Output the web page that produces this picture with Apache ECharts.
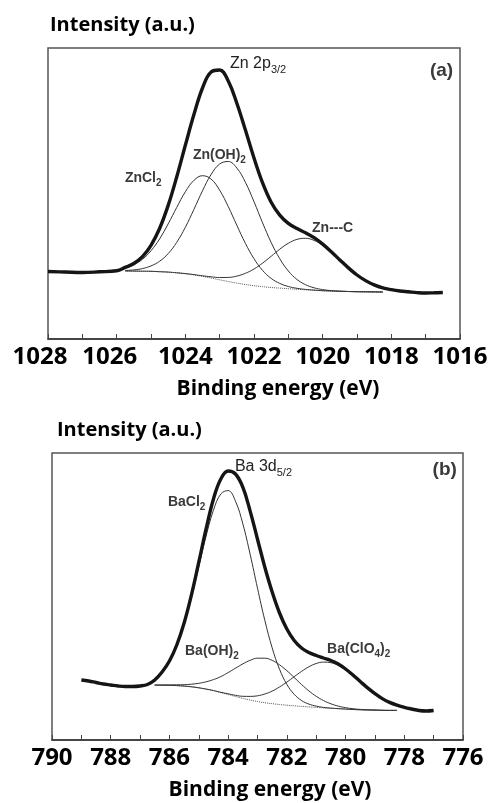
<!DOCTYPE html>
<html>
<head>
<meta charset="utf-8">
<script src="https://cdn.jsdelivr.net/npm/echarts@6/dist/echarts.min.js"></script>
<style>
  html, body { margin: 0; padding: 0; background: #fff; }
  #chart { width: 491px; height: 803px; }
</style>
</head>
<body>
<div id="chart"></div>
<script>
// ---- panel (a): Zn 2p3/2 ----
const ticksA = [1028, 1026, 1024, 1022, 1020, 1018, 1016];
const envEnergyA = [1028, 1027.5, 1027, 1026.5, 1026,
  1025.75, 1025.5, 1025.25, 1025, 1024.75, 1024.5, 1024.25, 1024, 1023.75, 1023.5, 1023.25, 1023,
  1022.75, 1022.5, 1022.25, 1022, 1021.75, 1021.5, 1021.25, 1021, 1020.75, 1020.5, 1020.25, 1020,
  1019.75, 1019.5, 1019.25, 1019, 1018.75, 1018.5, 1018.25,
  1018, 1017.75, 1017.5, 1017.25, 1017, 1016.75, 1016.5];
const envelopeA = [67.5, 67.0, 66.5, 67.2, 68.2,
  71.6, 75.5, 82.3, 93.7, 110.5, 133.6, 162.2, 193.7, 224.4, 251, 267, 269,
  258, 235.8, 209.0, 181.0, 156.1, 136.8, 123.9, 115.6, 110.5, 106.2, 101.3, 94.9,
  87.3, 79.1, 71.1, 64.0, 58.4, 54.1, 51.1,
  49.3, 48.0, 47.2, 46.4, 46.0, 46.2, 46.5];
const fitEnergyA = [1025.75, 1025.5, 1025.25, 1025, 1024.75, 1024.5, 1024.25, 1024, 1023.75, 1023.5,
  1023.25, 1023, 1022.75, 1022.5, 1022.25, 1022, 1021.75, 1021.5, 1021.25, 1021, 1020.75, 1020.5,
  1020.25, 1020, 1019.75, 1019.5, 1019.25, 1019, 1018.75, 1018.5, 1018.25];
const backgroundA = [68.0, 67.9, 67.8, 67.7, 67.3, 66.9, 66.2, 65.3, 64.1, 62.6,
  61.0, 59.2, 57.5, 55.9, 54.5, 53.3, 52.3, 51.5, 50.9, 50.3, 49.7, 49.2,
  48.7, 48.3, 48.0, 47.7, 47.5, 47.3, 47.2, 47.1, 47.0];
const zncl2A = [71.1, 74.3, 79.7, 88.3, 100.1, 115.1, 131.6, 147.2, 158.6, 163.3,
  159.9, 148.8, 132.4, 113.7, 95.6, 80.3, 68.6, 60.6, 55.6, 52.5, 50.7, 49.6,
  48.9, 48.3, 48.0, 47.7, 47.5, 47.3, 47.2, 47.1, 47.0];
const znoh2A = [68.5, 69.1, 70.4, 73.1, 77.7, 85.4, 96.7, 111.7, 129.6, 148.2,
  164.5, 175.0, 177.5, 171.0, 156.7, 137.3, 116.2, 96.5, 80.3, 68.0, 59.6, 54.3,
  51.2, 49.4, 48.4, 47.9, 47.5, 47.3, 47.2, 47.1, 47.0];
const zncA = [68.0, 67.9, 67.8, 67.7, 67.3, 66.9, 66.2, 65.4, 64.4, 63.2,
  62.2, 61.5, 61.6, 62.9, 65.7, 70.0, 75.9, 82.7, 89.8, 95.7, 99.6, 100.7,
  98.6, 93.7, 86.9, 78.9, 71.1, 64.0, 58.4, 54.1, 51.1];
const labelsA = [
  { text: 'Zn 2p{s|3/2}', at: [1022.7, 275], size: 16 },
  { text: '(a)', at: [1016.2, 268], size: 19, align: 'right', bold: true },
  { text: 'Zn(OH){s|2}', at: [1023.78, 184], bold: true },
  { text: 'ZnCl{s|2}', at: [1025.76, 161], bold: true },
  { text: 'Zn---C', at: [1020.31, 111], bold: true }
];

// ---- panel (b): Ba 3d5/2 ----
const ticksB = [790, 788, 786, 784, 782, 780, 778, 776];
const envEnergyB = [789, 788.75, 788.5, 788.25, 788, 787.75, 787.5, 787.25, 787, 786.75,
  786.5, 786.25, 786, 785.75, 785.5, 785.25, 785, 784.75, 784.5, 784.25, 784, 783.75, 783.5,
  783.25, 783, 782.75, 782.5, 782.25, 782, 781.75, 781.5, 781.25, 781, 780.75, 780.5, 780.25,
  780, 779.75, 779.5, 779.25, 779, 778.75, 778.5, 778.25,
  778, 777.75, 777.5, 777.25, 777];
const envelopeB = [60, 59, 57.5, 56, 55, 54, 53.5, 53.5, 54, 55.5,
  60, 68, 79, 95, 117, 145.2, 177.8, 211.3, 241.1, 261, 269, 266, 252.8,
  228.9, 200.8, 172.8, 148.0, 127, 111, 99.5, 92, 87.5, 84.5, 82, 79.5, 76,
  71, 65, 58.5, 52.1, 46.4, 41.4, 37.6, 34.8,
  32.7, 31.0, 29.5, 29.0, 29.5];
const fitEnergyB = [786.5, 786.25, 786, 785.75, 785.5, 785.25, 785, 784.75, 784.5, 784.25,
  784, 783.75, 783.5, 783.25, 783, 782.75, 782.5, 782.25, 782, 781.75,
  781.5, 781.25, 781, 780.75, 780.5, 780.25, 780, 779.75, 779.5, 779.25,
  779, 778.75, 778.5, 778.25];
const backgroundB = [54.9, 54.8, 54.7, 54.4, 53.9, 53.2, 52.2, 50.9, 49.3, 47.4,
  45.5, 43.5, 41.6, 40.0, 38.5, 37.3, 36.3, 35.5, 34.8, 34.2,
  33.6, 33.1, 32.6, 32.1, 31.7, 31.3, 30.9, 30.5, 30.2, 30.0,
  29.9, 29.7, 29.6, 29.6];
const bacl2B = [61.8, 68.1, 78.5, 94.0, 115.5, 142.6, 173.3, 204.0, 229.8, 246.0,
  249.4, 238.8, 216.2, 185.6, 151.8, 119.6, 92.1, 70.8, 55.6, 45.7,
  39.5, 35.9, 33.9, 32.6, 31.9, 31.4, 30.9, 30.5, 30.2, 30.0,
  29.9, 29.7, 29.6, 29.6];
const baoh2B = [55.0, 55.0, 55.1, 55.2, 55.3, 55.8, 56.7, 58.2, 60.4, 63.4,
  67.4, 71.8, 76.1, 79.7, 81.8, 81.8, 79.6, 75.2, 69.3, 62.5,
  55.5, 49.1, 43.7, 39.4, 36.2, 33.9, 32.3, 31.3, 30.6, 30.2,
  30.0, 29.7, 29.6, 29.6];
const baclo4B = [54.9, 54.8, 54.7, 54.4, 53.9, 53.2, 52.2, 50.9, 49.5, 47.7,
  46.2, 44.7, 43.7, 43.6, 44.2, 46.0, 48.9, 53.0, 57.9, 63.3,
  68.6, 73.2, 76.5, 77.9, 77.3, 74.6, 70.1, 64.4, 58.1, 51.9,
  46.3, 41.4, 37.6, 34.8];
const labelsB = [
  { text: 'Ba 3d{s|5/2}', at: [783.77, 273], size: 16 },
  { text: '(b)', at: [776.21, 270], size: 19, align: 'right', bold: true },
  { text: 'BaCl{s|2}', at: [786.05, 238], bold: true },
  { text: 'Ba(OH){s|2}', at: [785.47, 89], bold: true },
  { text: 'Ba(ClO{s|4}){s|2}', at: [780.63, 91], bold: true }
];

const pairs = (xs, ys) => xs.map((x, i) => [x, ys[i]]);
const boldFont = { fontFamily: 'Open Sans', fontWeight: 'bold', color: '#000' };

function xAxisFor(gridIndex, min, max, ticks, gapShift, shifted) {
  return {
    gridIndex: gridIndex,
    type: 'value',
    min: min,
    max: max,
    interval: 1,
    inverse: true,
    name: 'Binding energy (eV)',
    nameLocation: 'middle',
    nameGap: 40,
    nameTextStyle: Object.assign({ fontSize: 21, padding: [0, 0, 0, gapShift] }, boldFont),
    axisLine: { lineStyle: { color: '#333', width: 1.5 } },
    axisTick: { inside: true, length: 5, lineStyle: { color: '#444', width: 1 } },
    splitLine: { show: false },
    axisLabel: Object.assign({
      fontSize: 24,
      margin: 6,
      formatter: function (v) {
        if (shifted[v] !== undefined) return '{k' + v + '|' + v + '}';
        return ticks.indexOf(v) >= 0 ? String(v) : '';
      },
      rich: Object.keys(shifted).reduce(function (acc, k) {
        acc['k' + k] = Object.assign({ fontSize: 24, padding: [0, shifted[k], 0, 0] }, boldFont);
        return acc;
      }, {})
    }, boldFont)
  };
}

function yAxisFor(gridIndex, max, shift) {
  return {
    gridIndex: gridIndex,
    type: 'value',
    min: 0,
    max: max,
    name: 'Intensity (a.u.)',
    nameLocation: 'end',
    nameGap: 13,
    nameTextStyle: Object.assign({ fontSize: 20, align: 'left', verticalAlign: 'bottom', padding: [0, 0, 0, shift] }, boldFont),
    axisLine: { show: false },
    axisTick: { show: false },
    axisLabel: { show: false },
    splitLine: { show: false }
  };
}

function curve(xi, data, style) {
  return {
    type: 'line',
    xAxisIndex: xi,
    yAxisIndex: xi,
    data: data,
    showSymbol: false,
    smooth: 0.4,
    silent: true,
    lineStyle: style
  };
}

const thin = { color: '#333', width: 1 };
const bgStyle = { color: '#555', width: 1, type: 'dotted' };
const envStyle = { color: '#151515', width: 3.4 };

const chart = echarts.init(document.getElementById('chart'), null, { renderer: 'canvas' });
chart.setOption({
  animation: false,
  backgroundColor: '#fff',
  grid: [
    { left: 48, top: 48, width: 412, height: 291, show: true, borderColor: '#555', borderWidth: 1.5, outerBoundsMode: 'none' },
    { left: 52, top: 453, width: 411, height: 287, show: true, borderColor: '#555', borderWidth: 1.5, outerBoundsMode: 'none' }
  ],
  xAxis: [
    xAxisFor(0, 1016, 1028, ticksA, 48, { 1028: 16, 1026: 14 }),
    xAxisFor(1, 776, 790, ticksB, 25, {})
  ],
  yAxis: [
    yAxisFor(0, 291, 2),
    yAxisFor(1, 287, 5)
  ],
  series: [
    curve(0, pairs(fitEnergyA, backgroundA), bgStyle),
    curve(0, pairs(fitEnergyA, zncl2A), thin),
    curve(0, pairs(fitEnergyA, znoh2A), thin),
    curve(0, pairs(fitEnergyA, zncA), thin),
    curve(0, pairs(envEnergyA, envelopeA), envStyle),
    curve(1, pairs(fitEnergyB, backgroundB), bgStyle),
    curve(1, pairs(fitEnergyB, bacl2B), thin),
    curve(1, pairs(fitEnergyB, baoh2B), thin),
    curve(1, pairs(fitEnergyB, baclo4B), thin),
    curve(1, pairs(envEnergyB, envelopeB), envStyle)
  ]
});

// peak labels, placed at data coordinates
function makeLabel(gridIndex, l) {
  const p = chart.convertToPixel({ gridIndex: gridIndex }, l.at);
  const size = l.size || 14;
  const sub = Math.round(size * 0.7);
  const weight = l.bold ? 'bold' : 'normal';
  const ink = l.bold ? '#3a3a3a' : '#222';
  return {
    type: 'text',
    x: p[0],
    y: p[1],
    silent: true,
    style: {
      text: l.text,
      fill: ink,
      fontFamily: 'Liberation Sans',
      fontWeight: weight,
      fontSize: size,
      lineHeight: size + 6,
      align: l.align || 'left',
      verticalAlign: 'middle',
      rich: {
        s: { fontSize: sub, lineHeight: sub, verticalAlign: 'bottom', fill: ink, fontWeight: weight, fontFamily: 'Liberation Sans' }
      }
    }
  };
}

const graphics = labelsA.map(l => makeLabel(0, l)).concat(labelsB.map(l => makeLabel(1, l)));
chart.setOption({ graphic: graphics });
</script>
</body>
</html>
